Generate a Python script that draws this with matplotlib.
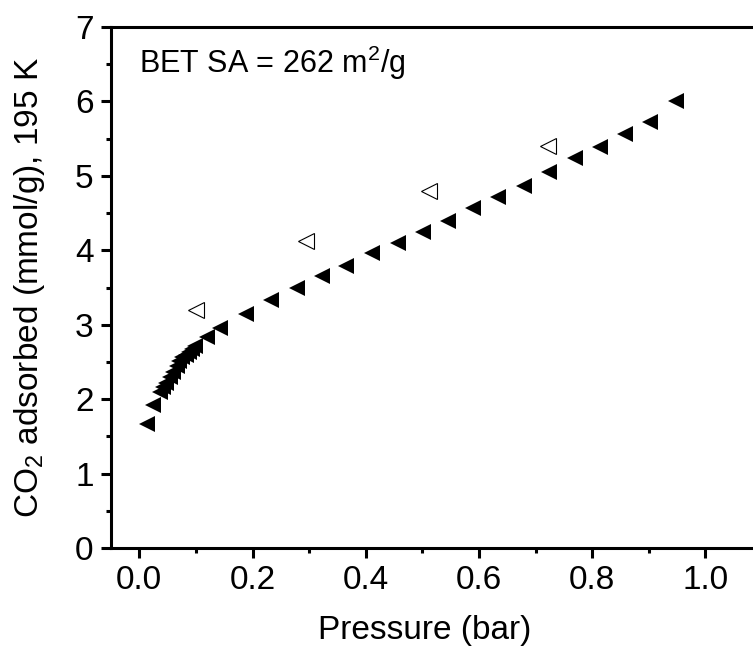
import matplotlib
matplotlib.use("Agg")
import matplotlib.pyplot as plt
from matplotlib.ticker import MultipleLocator

plt.rcParams['font.family'] = ['Liberation Sans', 'DejaVu Sans']
plt.rcParams['mathtext.fontset'] = 'custom'
plt.rcParams['mathtext.rm'] = 'Liberation Sans'

# isoterma de adsorcion (triangulos rellenos)
presion_ads = [0.014, 0.024, 0.036, 0.042, 0.047, 0.055, 0.060, 0.066, 0.070, 0.076,
               0.082, 0.087, 0.093, 0.098, 0.120, 0.143, 0.188, 0.233, 0.278, 0.323,
               0.366, 0.411, 0.457, 0.501, 0.545, 0.590, 0.634, 0.679, 0.724, 0.770,
               0.814, 0.858, 0.903, 0.948]
co2_ads = [1.66, 1.92, 2.10, 2.16, 2.22, 2.30, 2.37, 2.45, 2.51, 2.56,
           2.60, 2.64, 2.68, 2.72, 2.83, 2.95, 3.14, 3.33, 3.50, 3.65,
           3.79, 3.96, 4.10, 4.24, 4.40, 4.57, 4.71, 4.86, 5.05, 5.24,
           5.39, 5.56, 5.73, 6.00]

# desorcion (triangulos vacios)
presion_des = [0.100, 0.294, 0.511, 0.722]
co2_des = [3.20, 4.12, 4.80, 5.40]

fig = plt.figure(figsize=(7.53, 6.54), dpi=100)
ax = fig.add_axes([0.1474, 0.162, 0.8645, 0.7967])

ax.plot(presion_ads, co2_ads, linestyle='none', marker='<', markersize=11,
        color='black', markeredgewidth=0)
ax.plot(presion_des, co2_des, linestyle='none', marker='<', markersize=11,
        markerfacecolor='white', markeredgecolor='black', markeredgewidth=0.8)

ax.set_xlim(-0.05, 1.1)
ax.set_ylim(0, 7)
ax.xaxis.set_major_locator(MultipleLocator(0.2))
ax.xaxis.set_minor_locator(MultipleLocator(0.1))
ax.yaxis.set_major_locator(MultipleLocator(1))
ax.yaxis.set_minor_locator(MultipleLocator(0.5))
ax.set_xticks([0.0, 0.2, 0.4, 0.6, 0.8, 1.0])
ax.set_xticklabels(['0.0', '0.2', '0.4', '0.6', '0.8', '1.0'])

for lado in ax.spines.values():
    lado.set_linewidth(2.2)
ax.tick_params(which='major', direction='out', length=7, width=2.2, labelsize=24, pad=5.5)
ax.tick_params(which='minor', direction='out', length=3.5, width=2.2)

ax.set_xlabel('Pressure (bar)', fontsize=24, va='top')
ax.xaxis.set_label_coords(0.482, -0.1286)
ax.set_ylabel('CO$_2$ adsorbed (mmol/g), 195 K', fontsize=24, va='center')
ax.yaxis.set_label_coords(-0.125, 0.5)

ax.text(0.0, 6.52, 'BET SA = 262 m$^2$/g', fontsize=22, va='center', ha='left')

fig.savefig('out.png', dpi=100)
